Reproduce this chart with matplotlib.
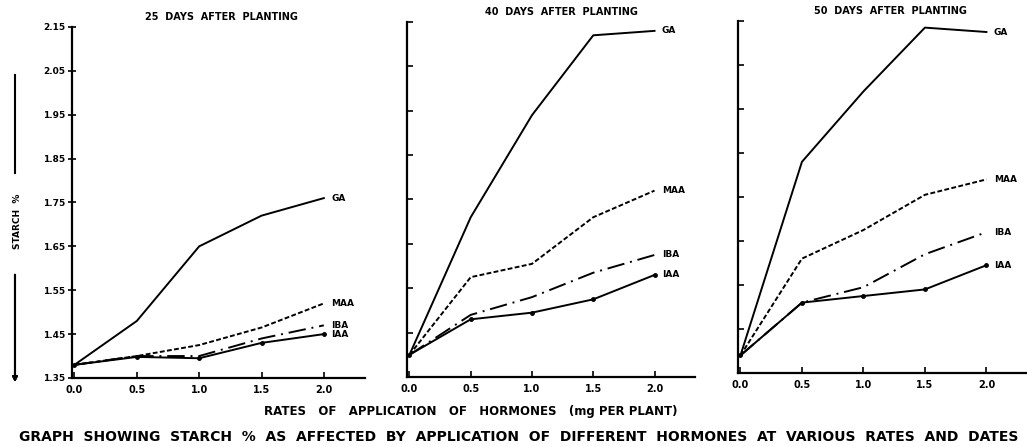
import matplotlib
matplotlib.use("Agg")
import matplotlib.pyplot as plt
from matplotlib.lines import Line2D

# hormone rates (mg per plant)
rates = [0.0, 0.5, 1.0, 1.5, 2.0]
rate_labels = ["0.0", "0.5", "1.0", "1.5", "2.0"]
starch_ticks = [1.35, 1.45, 1.55, 1.65, 1.75, 1.85, 1.95, 2.05, 2.15]
starch_tick_labels = ["1.35", "1.45", "1.55", "1.65", "1.75", "1.85", "1.95", "2.05", "2.15"]

hormones = ["GA", "MAA", "IBA", "IAA"]

# starch %
d25_GA = [1.38, 1.48, 1.65, 1.72, 1.76]
d25_MAA = [1.38, 1.40, 1.425, 1.465, 1.52]
d25_IBA = [1.38, 1.40, 1.40, 1.44, 1.47]
d25_IAA = [1.38, 1.398, 1.395, 1.43, 1.45]

d40_GA = [1.40, 1.71, 1.94, 2.12, 2.13]
d40_MAA = [1.40, 1.575, 1.605, 1.71, 1.77]
d40_IBA = [1.40, 1.49, 1.53, 1.585, 1.625]
d40_IAA = [1.40, 1.48, 1.495, 1.525, 1.58]

d50_GA = [1.39, 1.83, 1.99, 2.135, 2.125]
d50_MAA = [1.39, 1.61, 1.675, 1.755, 1.79]
d50_IBA = [1.39, 1.51, 1.545, 1.62, 1.67]
d50_IAA = [1.39, 1.51, 1.525, 1.54, 1.595]

panels = [
    ("25  DAYS  AFTER  PLANTING", [d25_GA, d25_MAA, d25_IBA, d25_IAA]),
    ("40  DAYS  AFTER  PLANTING", [d40_GA, d40_MAA, d40_IBA, d40_IAA]),
    ("50  DAYS  AFTER  PLANTING", [d50_GA, d50_MAA, d50_IBA, d50_IAA]),
]

styles = {
    "GA": dict(linestyle="-", lw=1.4),
    "MAA": dict(linestyle=(0, (2.5, 1.2)), lw=1.4),
    "IBA": dict(linestyle=(0, (9, 3, 1, 3)), lw=1.4),
    "IAA": dict(linestyle="-", lw=1.4, marker="o", markersize=2.5),
}

plt.rcParams["font.family"] = "DejaVu Sans"
plt.rcParams["font.weight"] = "bold"

fig = plt.figure(figsize=(10.27, 4.47), dpi=100)

# [left, bottom, width, height] in figure fraction
rects = [
    [0.0701, 0.1544, 0.2853, 0.7852],
    [0.3963, 0.1566, 0.2804, 0.7942],
    [0.7186, 0.1655, 0.2814, 0.7875],
]
title_x = [0.51, 0.535, 0.526]

for i, ((title, series), rect) in enumerate(zip(panels, rects)):
    ax = fig.add_axes(rect)
    for name, vals in zip(hormones, series):
        ax.plot(rates, vals, color="black", **styles[name])
        ax.text(rates[-1] + 0.06, vals[-1], name, fontsize=6.5, fontweight="bold",
                va="center", ha="left")
    ax.set_xlim(-0.02, 2.33)
    ax.set_ylim(1.35, 2.15)
    ax.spines["top"].set_visible(False)
    ax.spines["right"].set_visible(False)
    ax.spines["left"].set_linewidth(1.6)
    ax.spines["bottom"].set_linewidth(1.6)
    ax.set_xticks(rates)
    ax.set_xticklabels(rate_labels, fontsize=7, fontweight="bold")
    ax.tick_params(axis="x", direction="in", length=4, width=1.2, pad=5)
    ax.set_yticks(starch_ticks)
    if i == 0:
        ax.set_yticklabels(starch_tick_labels, fontsize=6.5, fontweight="bold")
        ax.tick_params(axis="y", direction="inout", length=6, width=1.2, pad=2)
    else:
        ax.set_yticklabels([])
        ax.tick_params(axis="y", direction="in", length=4, width=1.2)
    ax.set_title(title, fontsize=7, fontweight="bold", pad=5, x=title_x[i])

# y label with arrow
fig.text(0.0175, 0.505, "STARCH  %", rotation=90, fontsize=6.5, fontweight="bold",
         ha="center", va="center")
fig.add_artist(Line2D([0.0146, 0.0146], [1 - 75 / 447, 1 - 173 / 447], color="black",
                      lw=1.5, transform=fig.transFigure))
fig.add_artist(plt.annotate("", xy=(0.0146, 1 - 385 / 447), xytext=(0.0146, 1 - 272 / 447),
                            xycoords="figure fraction", textcoords="figure fraction",
                            arrowprops=dict(arrowstyle="-|>", color="black", lw=1.5,
                                            mutation_scale=7)))

fig.text(0.458, 1 - 412 / 447, "RATES   OF   APPLICATION   OF   HORMONES   (mg PER PLANT)",
         fontsize=8.5, fontweight="bold", ha="center", va="center")
fig.text(0.505, 1 - 437 / 447,
         "GRAPH  SHOWING  STARCH  %  AS  AFFECTED  BY  APPLICATION  OF  DIFFERENT  HORMONES  AT  VARIOUS  RATES  AND  DATES",
         fontsize=10, fontweight="bold", ha="center", va="center")

fig.savefig("out.png", dpi=100)
